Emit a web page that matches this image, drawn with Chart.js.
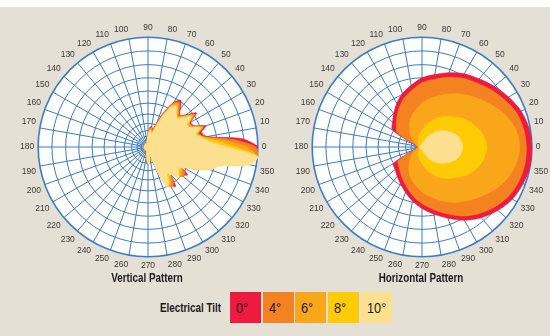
<!DOCTYPE html>
<html>
<head>
<meta charset="utf-8">
<script src="https://cdn.jsdelivr.net/npm/chart.js@4.4.1/dist/chart.umd.min.js"></script>
<style>
  body { margin: 0; width: 550px; height: 336px; background: #e5e0d6; position: relative; overflow: hidden;
         font-family: 'Liberation Sans', Arial, sans-serif; }
  #strip { position: absolute; left: 0; top: 0; width: 550px; height: 7px; background: #fff; }
  canvas { position: absolute; }
  .title { position: absolute; top: 271px; width: 200px; text-align: center; font-weight: bold; font-size: 12px; color: #1a1a1a; transform: scaleX(0.82); }
  #legendLabel { position: absolute; left: 100px; width: 121px; top: 301px; text-align: right; font-weight: bold; font-size: 12px; color: #1a1a1a;
                 transform: scaleX(0.82); transform-origin: right center; white-space: nowrap; }
  .box { position: absolute; top: 292px; width: 31px; height: 31px; font-size: 15px; color: #1a1a1a; line-height: 31px; box-sizing: border-box; padding-left: 6px; white-space: nowrap; }
  .box span { display: inline-block; transform: scaleX(0.85); transform-origin: left center; }
</style>
</head>
<body>
<div id="strip"></div>
<canvas id="vertical" width="257" height="257" style="left:19px;top:19px"></canvas>
<canvas id="horizontal" width="257" height="257" style="left:293px;top:19px"></canvas>
<div class="title" style="left:47px">Vertical Pattern</div>
<div class="title" style="left:321px">Horizontal Pattern</div>
<div id="legendLabel">Electrical Tilt</div>
<div id="legend"></div>
<script>
// --- séries ---
const TILTS = ['0°', '4°', '6°', '8°', '10°'];
const COLORS = ['#ed1b3f', '#f58220', '#f9a61b', '#ffcb05', '#fde08f'];
const BLUE = '#3b7cc6';

// cercles de la grille (échelle compressée vers le centre)
const RINGS = [0, 0.064, 0.10, 0.15, 0.215, 0.30, 0.40, 0.51, 0.63, 0.75, 0.875, 1.0];

// diagramme vertical : pas de 5°, sens trigo depuis 0°
const V_ANGLES = [0,5,10,15,20,25,30,35,40,45,50,55,60,65,70,75,80,85,90,95,100,105,
  110,115,120,125,130,135,140,145,150,155,160,165,170,175,180,185,190,195,200,205,210,215,220,225,230,235,240,245,
  250,255,260,265,270,275,280,285,290,295,300,305,310,315,320,325,330,335,340,345,350,355];
const V_T0 = [1.00,0.86,0.55,0.50,0.56,0.46,0.45,0.54,0.46,0.41,0.46,0.52,0.47,0.36,0.24,0.17,0.19,0.18,0.13,0.08,0.06,0.05,
  0.04,0.04,0.04,0.04,0.04,0.04,0.04,0.04,0.04,0.04,0.04,0.04,0.04,0.04,0.04,0.04,0.04,0.04,0.04,0.04,0.04,0.04,0.04,0.04,0.04,0.04,0.04,0.04,
  0.05,0.07,0.10,0.14,0.15,0.11,0.08,0.10,0.20,0.36,0.40,0.44,0.33,0.36,0.40,0.44,0.35,0.48,0.58,0.60,0.62,0.88];
const V_T4 = [0.98,0.78,0.53,0.48,0.54,0.45,0.44,0.52,0.45,0.40,0.44,0.50,0.46,0.35,0.22,0.16,0.18,0.17,0.13,0.08,0.06,0.05,
  0.04,0.04,0.04,0.04,0.04,0.04,0.04,0.04,0.04,0.04,0.04,0.04,0.04,0.04,0.04,0.04,0.04,0.04,0.04,0.04,0.04,0.04,0.04,0.04,0.04,0.04,0.04,0.04,
  0.05,0.06,0.09,0.13,0.15,0.12,0.08,0.09,0.19,0.37,0.42,0.41,0.32,0.37,0.42,0.41,0.36,0.48,0.58,0.62,0.80,1.00];
const V_T6 = [0.90,0.70,0.52,0.47,0.53,0.44,0.43,0.51,0.44,0.39,0.43,0.48,0.45,0.33,0.21,0.14,0.17,0.16,0.12,0.08,0.05,0.045,
  0.04,0.04,0.04,0.04,0.04,0.04,0.04,0.04,0.04,0.04,0.04,0.04,0.04,0.04,0.04,0.04,0.04,0.04,0.04,0.04,0.04,0.04,0.04,0.04,0.04,0.04,0.04,0.04,
  0.045,0.06,0.08,0.12,0.15,0.13,0.09,0.08,0.18,0.38,0.41,0.37,0.32,0.38,0.40,0.38,0.37,0.48,0.59,0.64,0.88,1.00];
const V_T8 = [0.80,0.63,0.51,0.46,0.52,0.43,0.42,0.49,0.43,0.38,0.41,0.46,0.43,0.31,0.19,0.13,0.16,0.15,0.11,0.07,0.05,0.04,
  0.035,0.035,0.035,0.035,0.035,0.035,0.035,0.035,0.035,0.035,0.035,0.035,0.035,0.035,0.035,0.035,0.035,0.035,0.035,0.035,0.035,0.035,0.035,0.035,0.035,0.035,0.035,0.035,
  0.04,0.05,0.07,0.11,0.15,0.14,0.09,0.07,0.16,0.39,0.39,0.34,0.32,0.39,0.38,0.36,0.37,0.48,0.60,0.66,0.92,1.00];
const V_T10 = [0.72,0.56,0.50,0.45,0.51,0.42,0.41,0.48,0.42,0.37,0.40,0.45,0.42,0.30,0.18,0.12,0.15,0.15,0.11,0.07,0.05,0.04,
  0.035,0.035,0.035,0.035,0.035,0.035,0.035,0.035,0.035,0.035,0.035,0.035,0.035,0.035,0.035,0.035,0.035,0.035,0.035,0.035,0.035,0.035,0.035,0.035,0.035,0.035,0.035,0.035,
  0.04,0.05,0.07,0.11,0.15,0.15,0.09,0.08,0.22,0.40,0.38,0.30,0.33,0.40,0.36,0.34,0.38,0.48,0.60,0.68,0.95,1.00];

// diagramme horizontal : pas de 10°
const H_ANGLES = [0,10,20,30,40,50,60,70,80,90,100,110,120,130,140,150,160,170,180,190,200,210,220,230,240,250,260,270,280,290,300,310,320,330,340,350];
const H_T0 = [1.00,0.99,0.96,0.91,0.86,0.81,0.77,0.72,0.67,0.63,0.57,0.52,0.46,0.40,0.35,0.31,0.09,0.05,0.04,0.05,0.09,0.30,0.32,0.35,0.39,0.44,0.50,0.56,0.62,0.69,0.77,0.84,0.90,0.95,0.98,1.00];
const H_T4 = [0.95,0.94,0.915,0.865,0.815,0.765,0.725,0.675,0.625,0.585,0.525,0.475,0.415,0.355,0.305,0.26,0.07,0.04,0.035,0.04,0.07,0.25,0.275,0.305,0.345,0.395,0.455,0.515,0.575,0.645,0.725,0.795,0.855,0.905,0.935,0.95];
const H_T6 = [0.89,0.87,0.82,0.75,0.68,0.62,0.56,0.50,0.45,0.40,0.34,0.29,0.23,0.17,0.12,0.08,0.06,0.04,0.03,0.04,0.06,0.09,0.13,0.18,0.24,0.30,0.35,0.41,0.46,0.52,0.58,0.64,0.70,0.77,0.83,0.87];
const H_T8 = [0.59,0.57,0.53,0.48,0.42,0.36,0.31,0.25,0.20,0.15,0.12,0.09,0.07,0.05,0.04,0.035,0.03,0.03,0.03,0.03,0.03,0.035,0.04,0.05,0.07,0.09,0.12,0.15,0.20,0.26,0.32,0.37,0.43,0.49,0.54,0.575];
const H_T10 = [0.37,0.36,0.33,0.28,0.23,0.17,0.115,0.06,0.03,0.02,0.02,0.02,0.02,0.02,0.02,0.02,0.02,0.02,0.02,0.02,0.02,0.02,0.02,0.02,0.02,0.02,0.02,0.02,0.03,0.06,0.115,0.17,0.23,0.28,0.33,0.36];

const FONT = "'Liberation Sans', Arial, sans-serif";

function drawPattern(canvasId, angles, series, tension) {
  // Chart.js tourne dans le sens horaire : on réordonne 0, 355, 350, ... pour un sens trigo
  const order = [0];
  for (let k = angles.length - 1; k > 0; k--) order.push(k);
  const labels = order.map(k => angles[k] % 10 === 0 ? String(angles[k]) : '');

  const datasets = series.map((s, j) => ({
    label: TILTS[j],
    data: order.map(k => s[k]),
    backgroundColor: COLORS[j],
    borderColor: COLORS[j],
    borderWidth: 0.6,
    fill: true,
    pointRadius: 0,
    pointHitRadius: 0,
    tension: tension
  })).reverse(); // le 0° au fond, le 10° par-dessus

  new Chart(document.getElementById(canvasId).getContext('2d'), {
    type: 'radar',
    data: { labels: labels, datasets: datasets },
    options: {
      responsive: false,
      animation: false,
      devicePixelRatio: 1,
      plugins: { legend: { display: false }, tooltip: { enabled: false } },
      scales: {
        r: {
          min: 0, max: 1,
          startAngle: 90,
          backgroundColor: '#ffffff',
          afterBuildTicks: scale => { scale.ticks = RINGS.map(v => ({ value: v })); },
          ticks: { display: false },
          grid: { circular: true, color: BLUE, lineWidth: ctx => (ctx.tick && ctx.tick.value === 1) ? 1.6 : 1 },
          angleLines: { color: BLUE, lineWidth: ctx => labels[ctx.index] ? 1 : 0 },
          pointLabels: { color: '#3a3a3a', padding: 4, font: { size: 8.5, family: FONT } }
        }
      }
    }
  });
}

drawPattern('vertical', V_ANGLES, [V_T0, V_T4, V_T6, V_T8, V_T10], 0.25);
drawPattern('horizontal', H_ANGLES, [H_T0, H_T4, H_T6, H_T8, H_T10], 0.3);

// légende "Electrical Tilt"
const legend = document.getElementById('legend');
TILTS.forEach((t, i) => {
  const div = document.createElement('div');
  div.className = 'box';
  div.style.left = (230 + i * 32.7) + 'px';
  div.style.background = COLORS[i];
  const span = document.createElement('span');
  span.textContent = t;
  div.appendChild(span);
  legend.appendChild(div);
});
</script>
</body>
</html>
